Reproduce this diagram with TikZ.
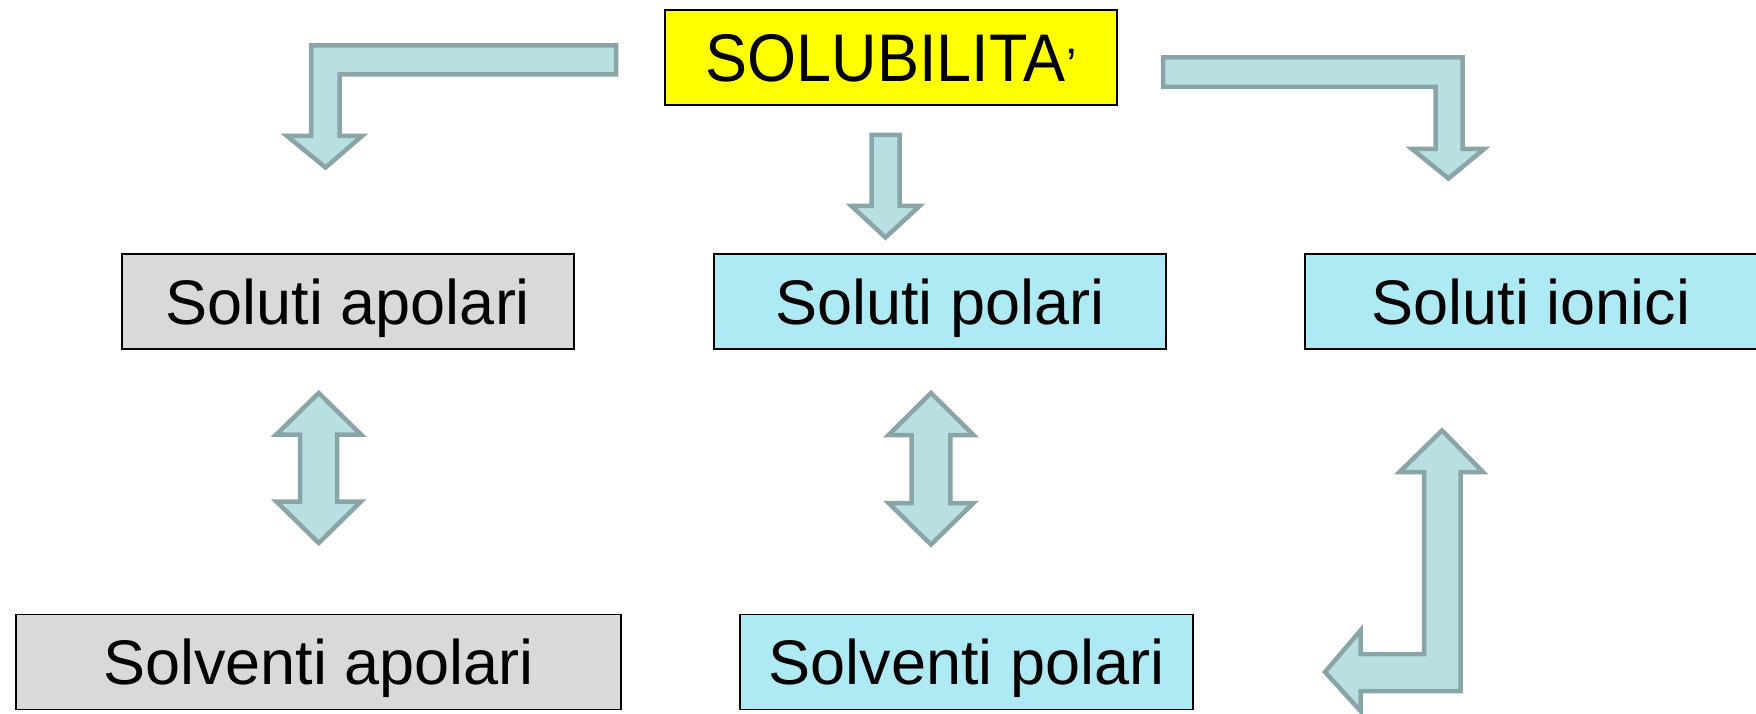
\documentclass[tikz,border=0pt]{standalone}
\usepackage{graphicx}
\usepackage{fontspec}
\setmainfont{Liberation Sans}
\definecolor{arrowfill}{RGB}{185,223,227}
\definecolor{arrowline}{RGB}{138,165,168}
\definecolor{boxgray}{RGB}{217,217,217}
\definecolor{boxcyan}{RGB}{174,234,243}
\definecolor{boxyellow}{RGB}{255,255,0}
\begin{document}
\begin{tikzpicture}[x=1pt,y=-1pt,
  blockarrow/.style={fill=arrowfill,draw=arrowline,line width=4.5pt,line join=miter},
  box/.style={draw=black,line width=1.8pt,inner sep=0pt,text height=45pt,text depth=0pt,
    font=\fontsize{63}{72}\selectfont,minimum height=95pt,minimum width=452pt}]
\useasboundingbox (0,0) rectangle (1756,714);

% boxes
\node[box,fill=boxyellow,minimum height=95.7pt,text height=48.3pt] (sol) at (891,57.5)
  {\scalebox{1}[1.07]{SOLUBILITA}\hspace{1pt}{\fontsize{47}{50}\selectfont ’}};
\node[box,fill=boxgray] (sapo) at (348,301.7) {Soluti apolari};
\node[box,fill=boxcyan] (spol) at (939.6,301.7) {Soluti polari};
\node[box,fill=boxcyan,minimum width=452.7pt] (sion) at (1531,301.7) {Soluti ionici};
\node[box,fill=boxgray,minimum width=604.6pt] (vapo) at (318.6,662) {Solventi apolari};
\node[box,fill=boxcyan,minimum width=452.6pt] (vpol) at (966.6,662) {Solventi polari};

% left L arrow (down)
\draw[blockarrow] (616,45.5) -- (311,45.5) -- (311,136) -- (287,136) -- (325.5,167.5)
  -- (362,136) -- (339.5,136) -- (339.5,74.5) -- (616,74.5) -- cycle;
% middle down arrow
\draw[blockarrow] (871.5,135) -- (899.5,135) -- (899.5,206) -- (919.5,206) -- (885.5,237.5)
  -- (851.5,206) -- (871.5,206) -- cycle;
% right L arrow (down)
\draw[blockarrow] (1163,57.3) -- (1462.7,57.3) -- (1462.7,149) -- (1484,149) -- (1448.5,178.5)
  -- (1412,149) -- (1435.6,149) -- (1435.6,87) -- (1163,87) -- cycle;
% left double arrow
\draw[blockarrow] (318.7,393) -- (361,434.5) -- (337.2,434.5) -- (337.2,501.5) -- (361,501.5)
  -- (318.7,543) -- (276.4,501.5) -- (300.2,501.5) -- (300.2,434.5) -- (276.4,434.5) -- cycle;
% middle double arrow
\draw[blockarrow] (931,393) -- (973.5,435) -- (950.3,435) -- (950.3,503) -- (973.5,503)
  -- (931,544.5) -- (888.5,503) -- (911.7,503) -- (911.7,435) -- (888.5,435) -- cycle;
% right L arrow (up and left)
\draw[blockarrow] (1442,430.5) -- (1483,472) -- (1460.5,472) -- (1460.5,691) -- (1360.5,691)
  -- (1360.5,711) -- (1325,672) -- (1360.5,630.5) -- (1360.5,654) -- (1424,654)
  -- (1424,472) -- (1399.5,472) -- cycle;
\end{tikzpicture}
\end{document}
